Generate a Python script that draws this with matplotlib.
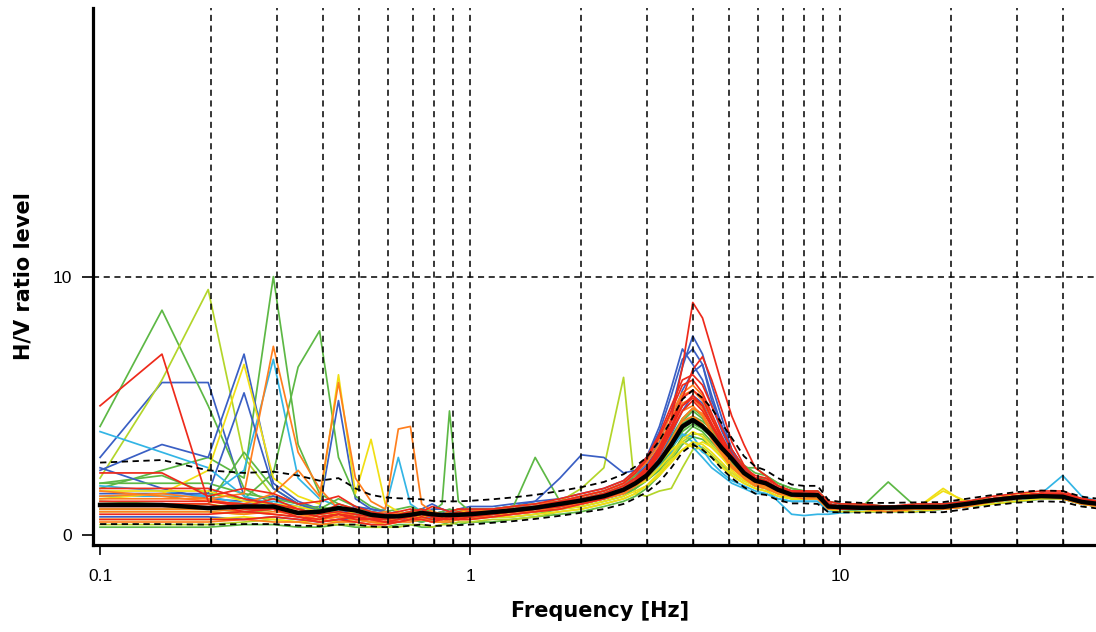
import matplotlib
matplotlib.use("Agg")
import matplotlib.pyplot as plt
from matplotlib.ticker import FixedLocator, NullFormatter

# frequency samples (Hz)
freq = [0.1, 0.147, 0.196, 0.245, 0.294, 0.343, 0.392, 0.441, 0.49, 0.54,
        0.59, 0.64, 0.69, 0.74, 0.79, 0.84, 0.88, 0.93, 1.0,
        1.15, 1.3, 1.5, 1.75, 2.0, 2.3, 2.6, 2.8,
        3.0, 3.25, 3.5, 3.75, 4.0, 4.25, 4.5, 4.8, 5.1, 5.5, 5.9, 6.3,
        6.8, 7.4, 8.0, 8.7, 9.3, 10.0,
        11.5, 13.5, 16, 19, 22, 26, 30, 35, 40, 45, 50]

# average H/V and +/- std curves
hv_mean = [1.16, 1.16, 1.04, 1.1, 1.1, 0.85, 0.9, 1.04, 0.95, 0.78,
           0.72, 0.72, 0.78, 0.85, 0.8, 0.77, 0.77, 0.78, 0.8,
           0.88, 0.95, 1.05, 1.2, 1.33, 1.5, 1.75, 2.0,
           2.3, 2.85, 3.5, 4.2, 4.45, 4.2, 3.85, 3.35, 2.95, 2.4, 2.1, 2.0,
           1.75, 1.56, 1.55, 1.54, 1.1, 1.08,
           1.05, 1.06, 1.08, 1.08, 1.2, 1.35, 1.45, 1.5, 1.48, 1.28, 1.2]
hv_upper = [2.8, 2.9, 2.5, 2.4, 2.45, 2.3, 2.1, 2.2, 1.8, 1.55,
            1.45, 1.42, 1.4, 1.38, 1.32, 1.3, 1.3, 1.3, 1.32,
            1.38, 1.45, 1.55, 1.7, 1.85, 2.05, 2.35, 2.65,
            3.0, 3.65, 4.45, 5.25, 5.6, 5.3, 4.9, 4.3, 3.75, 3.05, 2.65, 2.5,
            2.2, 1.95, 1.9, 1.9, 1.35, 1.28,
            1.24, 1.24, 1.26, 1.27, 1.4, 1.55, 1.66, 1.72, 1.7, 1.48, 1.4]
hv_lower = [0.42, 0.42, 0.4, 0.42, 0.42, 0.36, 0.34, 0.4, 0.4, 0.33,
            0.3, 0.31, 0.36, 0.4, 0.36, 0.35, 0.36, 0.38, 0.4,
            0.47, 0.53, 0.62, 0.74, 0.86, 1.0, 1.2, 1.42,
            1.65, 2.05, 2.6, 3.2, 3.5, 3.3, 3.0, 2.55, 2.2, 1.85, 1.6, 1.55,
            1.35, 1.22, 1.22, 1.2, 0.88, 0.88,
            0.86, 0.87, 0.88, 0.88, 1.0, 1.15, 1.25, 1.3, 1.28, 1.1, 1.02]

# individual window H/V curves
w01 = [5.0, 7.0, 1.3, 1.1, 1.4, 1.0, 0.8, 1.2, 1.0, 0.8, 0.7, 0.8, 0.9, 1.0, 0.8, 0.7, 0.8, 0.9, 0.8,
       0.9, 1.0, 1.1, 1.3, 1.4, 1.6, 1.9, 2.2, 2.6, 3.3, 4.2, 5.3, 6.4, 6.9, 6.0, 4.8, 3.6, 2.7, 2.2, 2.1,
       1.8, 1.6, 1.6, 1.5, 1.2, 1.1, 1.1, 1.1, 1.1, 1.1, 1.2, 1.4, 1.5, 1.6, 1.5, 1.3, 1.2]
w02 = [1.2, 1.2, 1.2, 0.9, 1.0, 0.7, 0.6, 0.8, 0.7, 0.6, 0.5, 0.6, 0.7, 0.8, 0.7, 0.6, 0.7, 0.6, 0.7,
       0.8, 0.9, 1.0, 1.1, 1.3, 1.5, 1.7, 2.0, 2.4, 3.2, 4.5, 6.5, 9.0, 8.4, 7.2, 5.8, 4.6, 3.5, 2.6, 2.3,
       1.9, 1.7, 1.6, 1.6, 1.2, 1.1, 1.0, 1.0, 1.1, 1.1, 1.2, 1.3, 1.5, 1.6, 1.5, 1.3, 1.2]
w03 = [3.0, 5.9, 5.9, 1.5, 1.0, 0.8, 0.9, 1.0, 0.8, 0.7, 0.8, 0.9, 0.8, 0.7, 0.8, 0.9, 0.8, 0.7, 0.9,
       1.0, 1.1, 1.1, 1.2, 1.4, 1.6, 1.9, 2.3, 2.8, 3.6, 4.8, 6.5, 7.7, 7.0, 5.8, 4.5, 3.3, 2.6, 2.1, 1.9,
       1.7, 1.5, 1.5, 1.6, 1.2, 1.0, 1.0, 1.0, 1.0, 1.1, 1.2, 1.3, 1.4, 1.5, 1.4, 1.2, 1.2]
w04 = [4.2, 8.7, 5.0, 1.8, 1.2, 1.0, 1.1, 0.9, 0.8, 0.7, 0.6, 0.7, 0.8, 0.7, 0.6, 0.7, 0.8, 0.7, 0.8,
       0.8, 0.9, 1.0, 1.1, 1.2, 1.4, 1.6, 1.8, 2.1, 2.5, 3.1, 3.8, 4.2, 4.0, 3.6, 3.2, 2.8, 2.3, 2.0, 1.9,
       1.7, 1.5, 1.5, 1.4, 1.1, 1.0, 1.0, 1.0, 1.0, 1.0, 1.1, 1.3, 1.4, 1.5, 1.4, 1.2, 1.1]
w05 = [2.2, 6.0, 9.5, 3.0, 1.5, 1.2, 1.0, 0.9, 1.0, 0.8, 0.7, 0.8, 0.9, 0.8, 0.7, 0.6, 0.7, 0.8, 0.7,
       0.8, 0.9, 1.0, 1.2, 1.3, 1.5, 1.7, 1.9, 2.2, 2.7, 3.4, 4.1, 4.5, 4.3, 3.9, 3.3, 2.8, 2.3, 2.0, 2.0,
       1.8, 1.6, 1.5, 1.5, 1.1, 1.0, 1.0, 1.0, 1.0, 1.1, 1.2, 1.3, 1.4, 1.5, 1.5, 1.3, 1.2]
w06 = [1.8, 2.5, 3.0, 2.2, 10.0, 3.5, 1.6, 1.2, 1.0, 0.9, 0.8, 0.7, 0.9, 1.0, 0.8, 0.7, 0.8, 0.9, 0.8,
       0.9, 1.0, 1.1, 1.2, 1.4, 1.6, 1.8, 2.1, 2.4, 2.9, 3.6, 4.4, 4.8, 4.5, 4.0, 3.4, 2.9, 2.4, 2.1, 2.0,
       1.8, 1.6, 1.6, 1.5, 1.1, 1.1, 1.1, 1.0, 1.1, 1.1, 1.2, 1.3, 1.5, 1.5, 1.5, 1.3, 1.2]
w07 = [1.5, 1.6, 1.4, 1.6, 7.3, 3.2, 1.8, 1.0, 0.9, 0.8, 0.9, 0.8, 0.7, 0.8, 0.9, 0.8, 0.7, 0.8, 0.9,
       1.0, 1.1, 1.2, 1.3, 1.5, 1.7, 2.0, 2.4, 2.8, 3.5, 4.5, 5.4, 5.6, 5.2, 4.5, 3.7, 3.0, 2.4, 2.1, 2.0,
       1.7, 1.5, 1.6, 1.6, 1.2, 1.1, 1.1, 1.1, 1.1, 1.1, 1.2, 1.4, 1.5, 1.6, 1.6, 1.3, 1.2]
w08 = [1.9, 1.7, 1.5, 2.5, 6.8, 2.2, 1.4, 1.1, 0.9, 0.9, 1.0, 3.0, 1.2, 0.9, 0.8, 0.8, 0.7, 0.8, 0.8,
       0.9, 1.0, 1.1, 1.2, 1.3, 1.5, 1.8, 2.0, 2.3, 2.8, 3.4, 3.9, 3.6, 3.2, 3.0, 2.7, 2.4, 2.1, 1.9, 1.8,
       1.3, 0.8, 0.75, 0.8, 0.8, 0.85, 0.9, 0.9, 1.0, 1.1, 1.2, 1.3, 1.5, 1.6, 2.3, 1.5, 1.3]
w09 = [2.5, 3.5, 3.0, 7.0, 2.0, 1.3, 1.0, 5.2, 1.4, 1.0, 0.9, 0.8, 0.9, 1.0, 1.2, 1.0, 0.9, 1.0, 1.1,
       1.1, 1.2, 1.3, 1.4, 1.6, 1.8, 2.1, 2.5, 3.0, 4.0, 5.4, 6.8, 7.2, 6.6, 5.2, 4.2, 3.3, 2.6, 2.2, 2.0,
       1.8, 1.6, 1.6, 1.6, 1.3, 1.2, 1.1, 1.1, 1.1, 1.2, 1.3, 1.4, 1.5, 1.6, 1.5, 1.3, 1.2]
w10 = [1.4, 1.6, 2.5, 6.6, 2.2, 1.5, 1.2, 6.2, 1.6, 3.7, 1.2, 0.9, 0.8, 0.7, 0.8, 0.7, 0.6, 0.7, 0.7,
       0.8, 0.8, 0.9, 1.0, 1.1, 1.3, 1.5, 1.7, 1.9, 2.3, 2.8, 3.3, 3.6, 3.5, 3.2, 2.8, 2.4, 2.1, 1.9, 1.8,
       1.6, 1.4, 1.4, 1.4, 1.0, 1.0, 1.0, 0.9, 1.0, 1.7, 1.3, 1.4, 1.6, 1.6, 1.5, 1.3, 1.2]
w11 = [2.0, 2.3, 1.6, 1.4, 2.4, 6.5, 7.9, 3.0, 1.5, 1.1, 0.9, 1.0, 1.1, 0.9, 0.8, 0.9, 1.0, 0.9, 0.8,
       0.8, 0.9, 1.0, 1.2, 1.3, 1.5, 1.8, 2.0, 2.4, 2.9, 3.5, 4.1, 4.4, 4.2, 3.8, 3.3, 2.9, 2.5, 2.2, 2.2,
       1.9, 1.7, 1.6, 1.6, 1.2, 1.1, 1.1, 2.05, 1.1, 1.1, 1.2, 1.3, 1.4, 1.5, 1.4, 1.2, 1.1]
w12 = [1.7, 1.5, 1.3, 1.2, 1.6, 2.5, 1.5, 5.9, 2.2, 1.3, 1.0, 4.1, 4.2, 1.2, 0.9, 0.8, 0.9, 1.0, 0.9,
       1.0, 1.0, 1.1, 1.3, 1.5, 1.7, 2.0, 2.4, 2.9, 3.7, 4.7, 5.5, 5.8, 5.4, 4.6, 3.6, 3.0, 2.4, 2.1, 2.0,
       1.7, 1.6, 1.7, 1.6, 1.2, 1.1, 1.1, 1.1, 1.1, 1.1, 1.2, 1.4, 1.5, 1.6, 1.6, 1.4, 1.3]
w13 = [1.3, 1.2, 1.2, 3.2, 1.8, 1.2, 1.0, 1.4, 1.1, 0.9, 0.8, 0.9, 0.8, 0.7, 0.9, 1.2, 4.8, 1.3, 0.9,
       0.9, 1.0, 3.0, 1.3, 1.4, 1.6, 1.9, 2.1, 2.5, 3.1, 3.8, 4.5, 4.9, 4.6, 4.1, 3.5, 3.0, 2.6, 2.6, 2.3,
       2.0, 1.8, 1.7, 1.6, 1.2, 1.1, 1.1, 1.1, 1.1, 1.1, 1.2, 1.3, 1.4, 1.5, 1.5, 1.3, 1.2]
w14 = [0.9, 0.9, 0.9, 0.8, 1.0, 0.9, 0.7, 0.8, 0.8, 0.7, 0.6, 0.7, 0.8, 0.7, 0.6, 0.7, 0.8, 0.7, 0.8,
       0.9, 1.0, 1.1, 1.3, 1.8, 2.6, 6.1, 1.6, 1.5, 1.7, 1.8, 2.6, 3.3, 3.4, 3.1, 2.7, 2.3, 2.0, 1.8, 1.7,
       1.5, 1.4, 1.4, 1.4, 1.0, 1.0, 1.0, 1.0, 1.0, 1.0, 1.1, 1.2, 1.3, 1.4, 1.4, 1.2, 1.1]
w15 = [2.6, 1.8, 1.4, 1.3, 1.5, 1.2, 1.0, 0.9, 1.1, 1.0, 0.9, 0.8, 0.8, 0.9, 1.0, 1.0, 0.9, 0.8, 0.9,
       1.0, 1.1, 1.3, 2.2, 3.1, 3.0, 2.4, 2.5, 3.0, 4.2, 5.7, 7.2, 6.6, 6.0, 5.0, 4.0, 3.2, 2.5, 2.2, 2.1,
       1.8, 1.7, 1.6, 1.7, 1.2, 1.1, 1.1, 1.1, 1.1, 1.2, 1.3, 1.4, 1.5, 1.6, 1.5, 1.3, 1.2]
w16 = [1.8, 1.8, 1.8, 1.4, 1.2, 1.0, 0.8, 0.9, 0.8, 0.7, 0.6, 0.7, 0.8, 0.9, 0.7, 0.7, 0.8, 0.8, 0.9,
       0.9, 1.0, 1.0, 1.2, 1.3, 1.5, 1.8, 2.1, 2.5, 3.2, 4.0, 4.8, 5.2, 4.8, 4.2, 3.5, 3.0, 2.5, 2.1, 2.0,
       1.8, 1.6, 1.5, 1.5, 1.1, 1.1, 1.0, 1.0, 1.1, 1.1, 1.2, 1.4, 1.5, 1.6, 1.6, 1.3, 1.2]
w17 = [1.0, 1.0, 1.0, 0.9, 0.8, 0.7, 0.6, 0.7, 0.6, 0.5, 0.5, 0.6, 0.7, 0.6, 0.6, 0.7, 0.6, 0.7, 0.7,
       0.8, 0.9, 0.9, 1.1, 1.2, 1.4, 1.6, 1.9, 2.2, 2.8, 3.6, 4.5, 4.9, 4.7, 4.0, 3.3, 2.7, 2.3, 2.0, 1.9,
       1.6, 1.5, 1.5, 1.4, 1.0, 1.0, 1.0, 1.0, 1.0, 1.0, 1.1, 1.3, 1.4, 1.5, 1.5, 1.2, 1.2]
w18 = [0.6, 0.6, 0.6, 0.7, 0.6, 0.5, 0.6, 0.5, 0.6, 0.5, 0.4, 0.5, 0.6, 0.6, 0.5, 0.5, 0.6, 0.6, 0.6,
       0.7, 0.7, 0.8, 0.9, 1.0, 1.2, 1.4, 1.6, 1.9, 2.4, 2.9, 3.3, 3.5, 3.3, 3.0, 2.6, 2.3, 2.0, 1.8, 1.7,
       1.5, 1.4, 1.4, 1.4, 1.0, 0.9, 0.9, 0.9, 0.9, 1.0, 1.1, 1.2, 1.3, 1.4, 1.4, 1.2, 1.1]
w19 = [0.3, 0.3, 0.3, 0.4, 0.4, 0.3, 0.3, 0.4, 0.3, 0.3, 0.3, 0.4, 0.4, 0.3, 0.3, 0.4, 0.5, 0.4, 0.5,
       0.5, 0.6, 0.7, 0.8, 0.9, 1.1, 1.3, 1.5, 1.8, 2.3, 2.9, 3.5, 3.8, 3.7, 3.4, 3.0, 2.6, 2.2, 1.9, 1.8,
       1.6, 1.4, 1.4, 1.4, 1.0, 1.0, 0.9, 0.9, 1.0, 1.0, 1.1, 1.2, 1.3, 1.4, 1.4, 1.2, 1.1]
w20 = [1.5, 1.5, 1.5, 1.2, 1.3, 1.1, 0.9, 1.0, 0.9, 0.8, 0.8, 0.9, 0.8, 0.9, 0.8, 0.8, 0.9, 0.9, 1.0,
       1.0, 1.1, 1.2, 1.3, 1.4, 1.6, 1.8, 2.0, 2.3, 2.7, 3.2, 3.6, 3.4, 3.0, 2.6, 2.3, 2.0, 1.8, 1.6, 1.6,
       1.4, 1.3, 1.3, 1.3, 1.0, 0.9, 0.9, 0.9, 0.9, 1.0, 1.1, 1.2, 1.3, 1.4, 1.4, 1.2, 1.1]
w21 = [0.8, 0.8, 0.8, 0.9, 0.8, 0.7, 0.5, 0.6, 0.7, 0.6, 0.5, 0.5, 0.6, 0.7, 0.6, 0.6, 0.6, 0.7, 0.7,
       0.8, 0.9, 1.0, 1.1, 1.3, 1.5, 1.8, 2.1, 2.6, 3.4, 4.4, 5.3, 5.6, 5.3, 4.5, 3.7, 3.1, 2.5, 2.2, 2.1,
       1.8, 1.6, 1.6, 1.5, 1.2, 1.1, 1.1, 1.1, 1.1, 1.1, 1.2, 1.4, 1.5, 1.6, 1.6, 1.4, 1.3]
w22 = [1.4, 1.4, 1.4, 1.1, 1.0, 0.8, 0.7, 0.8, 0.8, 0.6, 0.6, 0.6, 0.7, 0.8, 0.9, 0.7, 0.7, 0.8, 0.8,
       0.9, 0.9, 1.0, 1.2, 1.4, 1.6, 1.9, 2.2, 2.6, 3.3, 4.2, 5.1, 5.3, 4.9, 4.2, 3.5, 2.9, 2.3, 2.0, 1.9,
       1.7, 1.5, 1.5, 1.5, 1.1, 1.0, 1.0, 1.0, 1.0, 1.1, 1.2, 1.4, 1.5, 1.6, 1.5, 1.3, 1.2]
w23 = [1.2, 1.2, 1.2, 1.0, 1.1, 1.0, 0.8, 0.9, 0.7, 0.6, 0.7, 0.8, 0.9, 0.9, 0.8, 0.7, 0.8, 0.9, 0.9,
       0.9, 1.0, 1.1, 1.2, 1.3, 1.5, 1.7, 1.9, 2.1, 2.6, 3.1, 3.7, 4.0, 3.8, 3.4, 3.0, 2.6, 2.2, 1.9, 1.9,
       1.6, 1.5, 1.5, 1.5, 1.1, 1.0, 1.0, 1.0, 1.0, 1.8, 1.2, 1.3, 1.4, 1.5, 1.4, 1.2, 1.1]
w24 = [2.0, 2.0, 2.0, 1.6, 1.4, 1.2, 1.0, 1.1, 0.9, 0.8, 0.7, 0.8, 0.9, 1.0, 0.9, 0.8, 0.8, 0.9, 1.0,
       1.0, 1.1, 1.2, 1.3, 1.5, 1.7, 2.0, 2.3, 2.6, 3.1, 3.7, 4.3, 4.6, 4.4, 4.1, 3.7, 3.2, 2.7, 2.4, 2.3,
       2.0, 1.8, 1.7, 1.7, 1.3, 1.2, 1.2, 1.1, 1.1, 1.2, 1.3, 1.4, 1.5, 1.6, 1.5, 1.3, 1.2]
w25 = [0.7, 0.7, 0.7, 0.6, 0.7, 0.6, 0.5, 0.6, 0.6, 0.5, 0.5, 0.6, 0.6, 0.5, 0.6, 0.7, 0.7, 0.6, 0.7,
       0.7, 0.8, 0.9, 1.0, 1.2, 1.4, 1.6, 1.9, 2.3, 3.0, 3.9, 4.8, 5.4, 5.1, 4.5, 3.8, 3.0, 2.4, 2.0, 1.9,
       1.6, 1.5, 1.5, 1.5, 1.0, 1.0, 1.0, 1.0, 1.0, 1.0, 1.1, 1.3, 1.4, 1.5, 1.4, 1.2, 1.1]
w26 = [1.1, 1.1, 1.1, 1.0, 1.0, 0.9, 0.7, 0.8, 0.6, 0.6, 0.7, 0.7, 0.8, 0.8, 0.7, 0.8, 0.7, 0.8, 0.8,
       0.9, 1.0, 1.1, 1.3, 1.5, 1.7, 2.0, 2.4, 2.9, 3.8, 4.8, 5.8, 6.0, 5.5, 4.7, 3.8, 3.1, 2.5, 2.2, 2.1,
       1.8, 1.7, 1.7, 1.6, 1.2, 1.1, 1.1, 1.1, 1.1, 1.1, 1.2, 1.4, 1.5, 1.6, 1.6, 1.4, 1.3]
w27 = [0.5, 0.5, 0.5, 0.6, 0.5, 0.5, 0.4, 0.5, 0.5, 0.4, 0.4, 0.5, 0.5, 0.6, 0.5, 0.5, 0.5, 0.6, 0.6,
       0.7, 0.8, 0.9, 1.0, 1.2, 1.4, 1.6, 1.9, 2.3, 2.9, 3.7, 4.4, 4.6, 4.3, 3.7, 3.1, 2.6, 2.2, 1.9, 1.8,
       1.6, 1.5, 1.4, 1.4, 1.0, 1.0, 1.0, 0.9, 1.0, 1.0, 1.1, 1.3, 1.4, 1.5, 1.4, 1.2, 1.1]
w28 = [0.4, 0.4, 0.4, 0.5, 0.6, 0.5, 0.4, 0.4, 0.4, 0.3, 0.3, 0.3, 0.4, 0.4, 0.3, 0.4, 0.4, 0.5, 0.5,
       0.6, 0.6, 0.7, 0.9, 1.0, 1.2, 1.4, 1.6, 1.9, 2.4, 3.0, 3.6, 3.9, 3.9, 3.5, 3.1, 2.7, 2.3, 2.0, 1.9,
       1.6, 1.5, 1.5, 1.5, 1.1, 1.0, 1.0, 1.0, 1.0, 1.0, 1.1, 1.2, 1.3, 1.4, 1.4, 1.2, 1.1]
w29 = [2.4, 2.4, 1.5, 1.8, 1.6, 1.2, 1.3, 1.5, 1.1, 0.9, 0.8, 0.9, 1.0, 0.9, 1.1, 1.0, 0.9, 1.0, 1.0,
       1.0, 1.1, 1.2, 1.4, 1.6, 1.8, 2.1, 2.5, 3.0, 3.9, 5.0, 6.0, 6.2, 5.8, 5.0, 4.1, 3.3, 2.6, 2.3, 2.2,
       1.9, 1.7, 1.7, 1.7, 1.3, 1.2, 1.2, 1.1, 1.2, 1.2, 1.3, 1.5, 1.6, 1.7, 1.7, 1.4, 1.3]
w30 = [1.6, 1.6, 1.6, 5.5, 1.8, 1.2, 0.9, 1.0, 0.8, 0.7, 0.7, 0.8, 0.7, 0.8, 0.9, 0.8, 0.8, 0.9, 0.9,
       0.9, 1.0, 1.1, 1.3, 1.4, 1.6, 1.9, 2.2, 2.7, 3.4, 4.4, 5.6, 6.3, 6.6, 5.4, 4.2, 3.2, 2.5, 2.1, 2.0,
       1.7, 1.6, 1.6, 1.6, 1.2, 1.1, 1.1, 1.1, 1.1, 1.1, 1.2, 1.4, 1.5, 1.6, 1.5, 1.3, 1.2]
w31 = [1.3, 1.3, 1.3, 1.2, 1.1, 0.9, 0.7, 0.8, 0.7, 0.6, 0.6, 0.7, 0.7, 0.8, 0.7, 0.6, 0.7, 0.7, 0.8,
       0.8, 0.9, 1.0, 1.2, 1.3, 1.5, 1.8, 2.1, 2.5, 3.3, 4.2, 5.0, 5.4, 5.0, 4.3, 3.6, 3.0, 2.4, 2.1, 2.0,
       1.7, 1.6, 1.6, 1.5, 1.1, 1.0, 1.0, 1.0, 1.1, 1.1, 1.2, 1.4, 1.5, 1.6, 1.6, 1.3, 1.2]
w32 = [0.9, 0.9, 0.9, 0.8, 0.9, 0.8, 0.6, 0.7, 0.6, 0.5, 0.5, 0.6, 0.7, 0.6, 0.6, 0.6, 0.7, 0.6, 0.7,
       0.7, 0.8, 0.9, 1.1, 1.2, 1.4, 1.7, 2.0, 2.4, 3.1, 4.0, 4.8, 5.0, 4.6, 3.9, 3.2, 2.7, 2.2, 1.9, 1.9,
       1.7, 1.5, 1.5, 1.5, 1.1, 1.0, 1.0, 1.0, 1.0, 1.1, 1.2, 1.3, 1.4, 1.5, 1.5, 1.3, 1.2]
w33 = [1.7, 1.7, 1.7, 1.3, 1.2, 1.1, 0.9, 0.8, 0.9, 0.7, 0.6, 0.7, 0.6, 0.7, 0.8, 0.7, 0.7, 0.8, 0.8,
       0.8, 0.9, 1.0, 1.1, 1.3, 1.5, 1.7, 2.0, 2.3, 2.8, 3.3, 3.6, 3.4, 3.6, 3.4, 3.0, 2.5, 2.1, 1.9, 1.8,
       1.6, 1.5, 1.5, 1.4, 1.0, 1.0, 1.0, 1.0, 1.0, 1.0, 1.1, 1.3, 1.4, 1.5, 1.5, 1.2, 1.2]
w34 = [1.0, 1.0, 1.0, 0.9, 1.0, 0.8, 0.8, 0.9, 0.7, 0.7, 0.6, 0.7, 0.6, 0.5, 0.6, 0.7, 0.6, 0.6, 0.7,
       0.7, 0.7, 0.8, 1.0, 1.1, 1.3, 1.5, 1.8, 2.1, 2.6, 3.3, 4.0, 4.3, 4.1, 3.8, 3.3, 2.8, 2.4, 2.1, 2.1,
       1.8, 1.6, 1.6, 1.5, 1.1, 1.1, 1.0, 1.0, 1.1, 1.1, 1.2, 1.3, 1.4, 1.5, 1.5, 1.3, 1.2]
w35 = [0.6, 0.6, 0.6, 0.6, 0.7, 0.6, 0.5, 0.6, 0.5, 0.4, 0.4, 0.5, 0.6, 0.6, 0.5, 0.6, 0.6, 0.6, 0.6,
       0.7, 0.8, 0.9, 1.0, 1.2, 1.4, 1.7, 2.0, 2.4, 3.1, 4.1, 5.0, 5.3, 5.0, 4.3, 3.5, 2.9, 2.4, 2.1, 2.0,
       1.7, 1.6, 1.6, 1.5, 1.1, 1.1, 1.1, 1.0, 1.1, 1.1, 1.2, 1.4, 1.5, 1.6, 1.6, 1.3, 1.2]
w36 = [4.0, 3.2, 2.6, 1.5, 1.2, 1.0, 0.8, 0.9, 0.8, 0.7, 0.7, 0.8, 0.7, 0.6, 0.7, 0.8, 0.7, 0.7, 0.8,
       0.8, 0.9, 1.0, 1.1, 1.3, 1.5, 1.7, 2.0, 2.3, 2.8, 3.4, 3.9, 3.8, 3.3, 2.8, 2.4, 2.1, 1.9, 1.7, 1.6,
       1.4, 1.3, 1.3, 1.3, 0.9, 0.9, 0.9, 0.9, 0.9, 1.0, 1.1, 1.2, 1.3, 1.4, 1.4, 1.2, 1.1]

RED, ORANGE, YELLOW = "#ee2a1b", "#ff7f1e", "#f0df14"
YGREEN, GREEN, CYAN, BLUE = "#b3d52a", "#5db845", "#33b5e5", "#3a5fc4"

windows = [w03, w04, w05, w06, w08, w09, w11, w13, w14, w15, w19, w20, w24, w25,
           w28, w30, w34, w36, w10, w18, w23, w33, w07, w12, w17, w22, w27, w32,
           w01, w16, w21, w26, w29, w31, w35, w02]
win_colors = [BLUE, GREEN, YGREEN, GREEN, CYAN, BLUE, GREEN, GREEN, YGREEN, BLUE, GREEN, CYAN,
              GREEN, BLUE, YGREEN, BLUE, GREEN, CYAN, YELLOW, YELLOW, YELLOW, YELLOW, ORANGE,
              ORANGE, ORANGE, ORANGE, ORANGE, ORANGE, RED, RED, RED, RED, RED, RED, RED, RED]

fig = plt.figure(figsize=(10.96, 6.32), dpi=100)
ax = fig.add_axes([93 / 1096, 87 / 632, 1003 / 1096, 537 / 632])

for w, c in zip(windows, win_colors):
    ax.plot(freq, w, color=c, lw=1.25, zorder=2)

ax.plot(freq, hv_upper, color="black", lw=1.3, ls=(0, (3.5, 2.5)), zorder=4)
ax.plot(freq, hv_lower, color="black", lw=1.3, ls=(0, (3.5, 2.5)), zorder=4)
ax.plot(freq, hv_mean, color="black", lw=3.2, zorder=5)

ax.set_xscale("log")
ax.set_xlim(0.0957, 49.2)
ax.set_ylim(-0.39, 20.4)

# dashed grid
grid_f = [0.2, 0.3, 0.4, 0.5, 0.6, 0.7, 0.8, 0.9, 1, 2, 3, 4, 5, 6, 7, 8, 9, 10, 20, 30, 40]
for g in grid_f:
    ax.axvline(g, color="black", lw=1.1, ls=(0, (4, 3)), zorder=3)
ax.axhline(10, color="black", lw=1.1, ls=(0, (4, 3)), zorder=3)

ax.xaxis.set_major_locator(FixedLocator([0.1, 1, 10]))
ax.set_xticklabels(["0.1", "1", "10"])
ax.xaxis.set_minor_locator(FixedLocator([0.2, 0.3, 0.4, 0.5, 0.6, 0.7, 0.8, 0.9,
                                         2, 3, 4, 5, 6, 7, 8, 9, 20, 30, 40]))
ax.xaxis.set_minor_formatter(NullFormatter())
ax.set_yticks([0, 10])
ax.set_yticklabels(["0", "10"])
ax.tick_params(axis="x", which="major", direction="out", length=7, width=1.2, pad=10,
               labelsize=12.5, labelfontfamily="Liberation Sans")
ax.tick_params(axis="x", which="minor", direction="in", length=4, width=1.0)
ax.tick_params(axis="y", which="major", direction="out", length=8, width=1.2, pad=7,
               labelsize=12.5, labelfontfamily="Liberation Sans")

for s in ["top", "right"]:
    ax.spines[s].set_visible(False)
for s in ["left", "bottom"]:
    ax.spines[s].set_linewidth(2.3)

fig.text(600 / 1096, 1 - 617 / 632, "Frequency [Hz]", ha="center", va="baseline",
         fontsize=15, fontweight="bold", family="DejaVu Sans")
fig.text(24 / 1096, 1 - 276 / 632, "H/V ratio level", ha="center", va="center",
         rotation=90, fontsize=15, fontweight="bold", family="DejaVu Sans")

fig.savefig("out.png", dpi=100)
